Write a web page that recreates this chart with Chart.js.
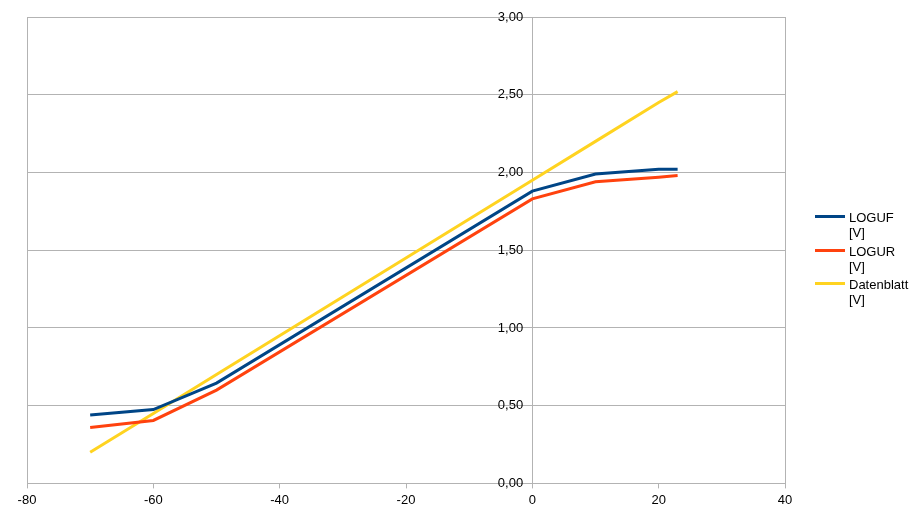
<html>
<head>
<meta charset="utf-8">
<script src="https://cdn.jsdelivr.net/npm/chart.js"></script>
<style>
    body { margin: 0; background: #fff; }
    #wrap { position: relative; width: 921px; height: 518px; }
    #legend { position: absolute; left: 815px; top: 210px; font: 13px "Liberation Sans", Arial, sans-serif; color: #000; }
    .item { position: relative; height: 33.5px; }
    .item .swatch { position: absolute; left: 0; top: 5px; width: 30px; height: 3px; }
    .item .text { position: absolute; left: 34px; top: 0; line-height: 15px; }
</style>
</head>
<body>
<div id="wrap">
    <canvas id="lineChart" width="921" height="518"></canvas>
    <div id="legend"></div>
</div>
<script>
    // Messwerte
    const xValues = [-70, -60, -50, 0, 10, 20, 23];
    const logufValues = [0.44, 0.475, 0.645, 1.88, 1.99, 2.02, 2.02];
    const logurValues = [0.36, 0.405, 0.60, 1.83, 1.94, 1.97, 1.98];
    const datenblattValues = [0.20, 0.45, 0.70, 1.95, 2.20, 2.45, 2.52];

    const seriesNames = ['LOGUF [V]', 'LOGUR [V]', 'Datenblatt [V]'];
    const seriesColors = ['#004586', '#ff420e', '#ffd320'];

    const gridColor = '#b3b3b3';
    const transparent = 'rgba(0,0,0,0)';

    function toPoints(values) {
        return xValues.map((x, i) => ({ x: x, y: values[i] }));
    }

    const ctx = document.getElementById('lineChart').getContext('2d');
    const chart = new Chart(ctx, {
        type: 'line',
        data: {
            datasets: [logufValues, logurValues, datenblattValues].map((vals, i) => ({
                label: seriesNames[i],
                data: toPoints(vals),
                borderColor: seriesColors[i],
                backgroundColor: seriesColors[i],
                borderWidth: 3,
                pointRadius: 0,
                tension: 0
            }))
        },
        options: {
            responsive: false,
            animation: false,
            layout: { padding: { left: 27, right: 136, top: 17, bottom: 6 } },
            plugins: {
                legend: { display: false },
                tooltip: { enabled: false }
            },
            scales: {
                x: {
                    type: 'linear',
                    min: -80,
                    max: 40,
                    ticks: {
                        stepSize: 20,
                        color: '#000',
                        padding: 4,
                        font: { family: 'Liberation Sans', size: 13 }
                    },
                    grid: {
                        // nur Rahmen links/rechts und die Achse bei 0
                        color: c => (c.tick && [-80, 0, 40].includes(c.tick.value)) ? gridColor : transparent,
                        tickColor: gridColor,
                        tickLength: 5
                    },
                    border: { color: gridColor }
                },
                y: {
                    // Beschriftung etwas links von der Achse bei x=0
                    position: { x: -1.45 },
                    min: 0,
                    max: 3,
                    ticks: {
                        stepSize: 0.5,
                        color: '#000',
                        font: { family: 'Liberation Sans', size: 13 },
                        callback: v => v.toFixed(2).replace('.', ',')
                    },
                    grid: {
                        color: gridColor,
                        tickLength: 0
                    },
                    border: { display: false }
                }
            }
        }
    });

    // Legende (zweizeilig wie im Original)
    const legend = document.getElementById('legend');
    seriesNames.forEach((name, i) => {
        const parts = name.split(' ');
        const item = document.createElement('div');
        item.className = 'item';
        item.innerHTML = '<div class="swatch" style="background:' + seriesColors[i] + '"></div>' +
            '<div class="text">' + parts[0] + '<br>' + parts[1] + '</div>';
        legend.appendChild(item);
    });
</script>
</body>
</html>
